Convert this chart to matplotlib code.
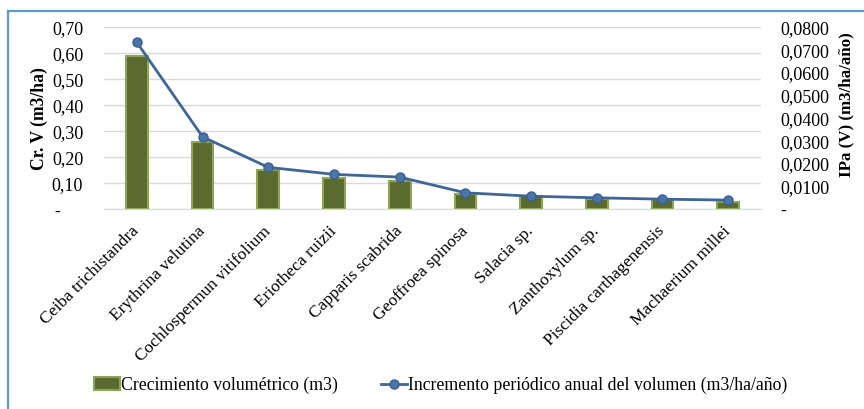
import matplotlib.pyplot as plt
import numpy as np
from matplotlib.lines import Line2D
from matplotlib.ticker import FuncFormatter

plt.rcParams['font.family'] = ['Liberation Serif', 'DejaVu Serif']

especies = ['Ceiba trichistandra', 'Erythrina velutina', 'Cochlospermun vitifolium',
            'Eriotheca ruizii', 'Capparis scabrida', 'Geoffroea spinosa',
            'Salacia sp.', 'Zanthoxylum sp.', 'Piscidia carthagenensis', 'Machaerium millei']
crec_vol = [0.59, 0.26, 0.15, 0.12, 0.11, 0.06, 0.05, 0.04, 0.04, 0.03]
ipa_vol = [0.0734, 0.0319, 0.0185, 0.0154, 0.0142, 0.0073, 0.0058, 0.0051, 0.0045, 0.0041]

fig = plt.figure(figsize=(8.64, 4.09), dpi=100)
ax = fig.add_axes([0.1204, 0.488, 0.7604, 0.445])
ax2 = ax.twinx()

x = np.arange(len(especies))
ax.bar(x, crec_vol, width=0.33, color='#5b6b2f', edgecolor='#8ca655', linewidth=1.5,
       zorder=2, label='Crecimiento volumétrico (m3)')
ax2.plot(x, ipa_vol, color='#3f6699', linewidth=2, marker='o', markersize=6.5,
         markerfacecolor='#4a75aa', markeredgecolor='#3a5f90', zorder=3,
         label='Incremento periódico anual del volumen (m3/ha/año)')

ax.set_xlim(-0.5, len(especies) - 0.5)
ax.set_ylim(0, 0.70)
ax2.set_ylim(0, 0.08)
ax.set_yticks(np.arange(0, 0.71, 0.1))
ax2.set_yticks(np.arange(0, 0.081, 0.01))

ax.yaxis.set_major_formatter(FuncFormatter(
    lambda v, p: '-     ' if abs(v) < 1e-9 else f'{v:.2f}'.replace('.', ',')))
ax2.yaxis.set_major_formatter(FuncFormatter(
    lambda v, p: '-' if abs(v) < 1e-9 else f'{v:.4f}'.replace('.', ',')))

ax.grid(axis='y', color='#d9d9d9', linewidth=1, zorder=0)
ax.set_axisbelow(True)
for a in (ax, ax2):
    for s in a.spines.values():
        s.set_visible(False)
    a.tick_params(length=0, labelsize=13)
ax.spines['bottom'].set_visible(True)
ax.spines['bottom'].set_color('#d9d9d9')
ax.tick_params(axis='y', pad=15)
ax2.tick_params(axis='y', pad=14)

ax.set_xticks(x)
ax.set_xticklabels(especies, rotation=45, ha='right', va='center',
                   rotation_mode='anchor', fontsize=12.5)
ax.tick_params(axis='x', pad=14)

ax.set_ylabel('Cr. V (m3/ha)', fontsize=12.7, fontweight='bold', labelpad=3)
ax2.set_ylabel('IPa (V) (m3/ha/año)', fontsize=12.2, fontweight='bold', rotation=90)
ax2.yaxis.set_label_coords(1.118, 0.575)

h1, l1 = ax.get_legend_handles_labels()
h2, l2 = ax2.get_legend_handles_labels()
fig.legend(h1 + h2, l1 + l2, loc='center', bbox_to_anchor=(0.51, 0.058), ncol=2,
           frameon=False, fontsize=12.8, handlelength=1.5, handletextpad=0.05,
           columnspacing=2.4)

# marco del gráfico (arriba e izquierda)
fig.add_artist(Line2D([0.0093, 1.0], [0.973, 0.973], color='#5b9bd5', linewidth=1.6))
fig.add_artist(Line2D([0.0093, 0.0093], [0.0, 0.973], color='#5b9bd5', linewidth=1.6))

fig.savefig('out.png', dpi=100)
